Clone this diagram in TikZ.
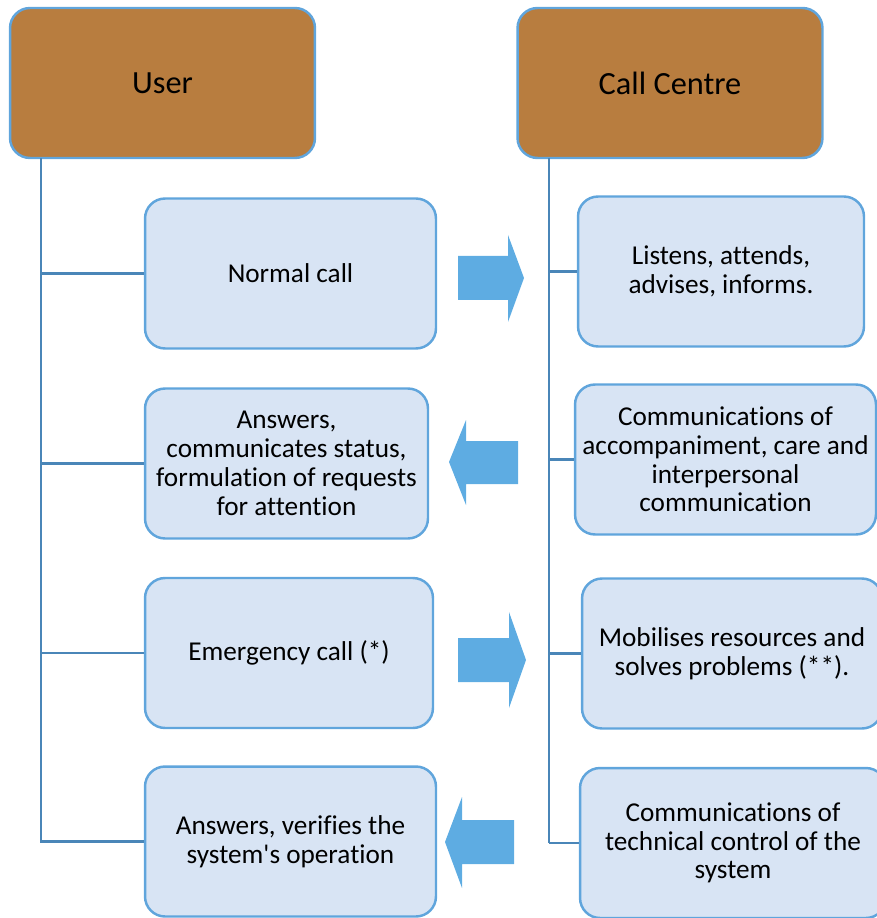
\documentclass[tikz,border=0pt]{standalone}
\usepackage{fontspec}
\setmainfont[Ligatures=NoCommon]{Carlito}
\usepackage{tikz}

\definecolor{hdrbrown}{RGB}{184,125,63}
\definecolor{boxblue}{RGB}{216,228,244}
\definecolor{edgeblue}{RGB}{96,165,220}
\definecolor{treeblue}{RGB}{74,134,184}
\definecolor{arrowblue}{RGB}{94,172,226}

\tikzset{
  hdr/.style={draw=edgeblue,line width=1.4pt,fill=hdrbrown,rounded corners=0.4cm,
    minimum width=6.1cm,minimum height=3cm,font=\fontsize{18.4}{21}\selectfont},
  itembox/.style={draw=edgeblue,line width=1.4pt,fill=boxblue,rounded corners=0.4cm,
    align=center,minimum height=3cm,font=\fontsize{15.5}{16.4}\selectfont},
  tree/.style={draw=treeblue,line width=1.6pt},
  bigarrow/.style={fill=arrowblue}
}

\begin{document}
\begin{tikzpicture}[x=0.02cm,y=-0.02cm]
  \useasboundingbox (0,0) rectangle (876,918);

  % headers
  \node[hdr] (user) at (162.5,83) {User};
  \node[hdr] (centre) at (670,83) {Call Centre};

  % user side
  \node[itembox,minimum width=5.82cm] (l1) at (290.5,273.5) {Normal call};
  \node[itembox,minimum width=5.66cm] (l2) at (286.5,463.5) {Answers,\\ communicates status,\\ formulation of requests\\ for attention};
  \node[itembox,minimum width=5.76cm] (l3) at (289,653) {Emergency call (*)};
  \node[itembox,minimum width=5.82cm] (l4) at (290.5,841.5) {Answers, verifies the\\ system\textquotesingle s operation};

  % call centre side
  \node[itembox,minimum width=5.72cm] (r1) at (721,271.5) {Listens, attends,\\ advises, informs.};
  \node[itembox,minimum width=6.02cm] (r2) at (725.5,459.5) {Communications of\\ accompaniment, care and\\ interpersonal\\ communication};
  \node[itembox,minimum width=6cm] (r3) at (732,653.5) {Mobilises resources and\\ solves problems (**).};
  \node[itembox,minimum width=6.12cm] (r4) at (733,843) {Communications of\\ technical control of the\\ system};

  \coordinate (ut) at (41,158);
  \coordinate (ct) at (549,158);

  \draw[tree] (ut) |- (l4.west);
  \draw[tree] (ct) -- (ct |- r4.west);
  \foreach \to in {l1,l2,l3}
    \draw[tree] (ut |- \to.west) -- (\to.west);
  \foreach \to in {r1,r2,r3,r4}
    \draw[tree] (ct |- \to.west) -- (\to.west);

  % arrows between the columns
  \fill[bigarrow] (458,256) -- (508,256) -- (508,235) -- (524,278) -- (508,322) -- (508,300) -- (458,300) -- cycle;
  \fill[bigarrow] (518,441) -- (466,441) -- (466,420) -- (449,462) -- (466,505) -- (466,484) -- (518,484) -- cycle;
  \fill[bigarrow] (458,638) -- (509,638) -- (509,612) -- (526,660) -- (509,708) -- (509,682) -- (458,682) -- cycle;
  \fill[bigarrow] (514,820) -- (462,820) -- (462,797) -- (445,842) -- (462,888) -- (462,864) -- (514,864) -- cycle;

\end{tikzpicture}
\end{document}
